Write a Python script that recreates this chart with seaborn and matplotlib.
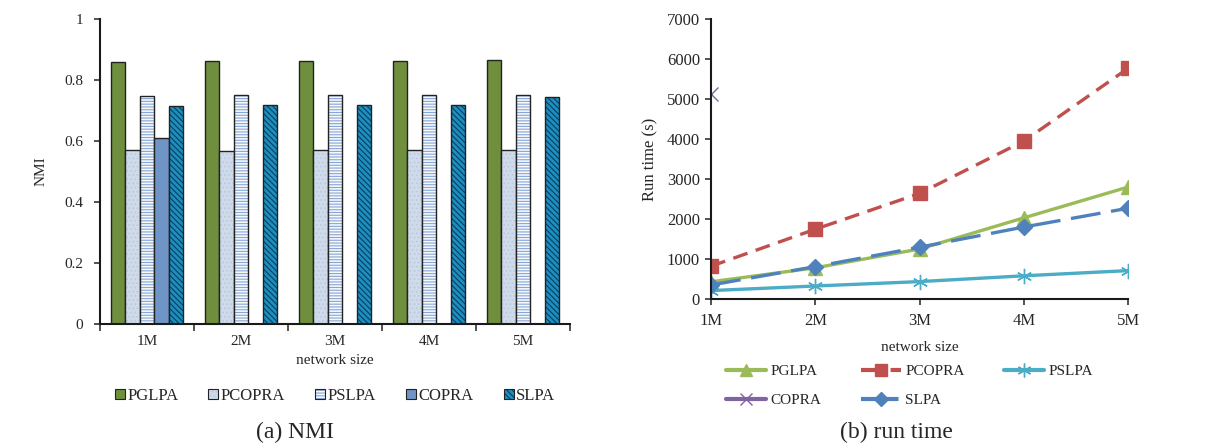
import numpy as np
import pandas as pd
import seaborn as sns
import matplotlib.pyplot as plt
import matplotlib.ticker as ticker
from matplotlib.colors import to_rgba
from matplotlib.lines import Line2D
from matplotlib.patches import Patch

sizes = ['1M', '2M', '3M', '4M', '5M']
algos = ['PGLPA', 'PCOPRA', 'PSLPA', 'COPRA', 'SLPA']

# NMI values
nmi_pglpa = [0.859, 0.861, 0.862, 0.863, 0.864]
nmi_pcopra = [0.570, 0.568, 0.571, 0.570, 0.571]
nmi_pslpa = [0.748, 0.752, 0.750, 0.752, 0.752]
nmi_copra = [0.610, np.nan, np.nan, np.nan, np.nan]
nmi_slpa = [0.715, 0.717, 0.717, 0.717, 0.744]

# run time (s)
rt_pglpa = [430, 780, 1250, 2030, 2800]
rt_pcopra = [820, 1745, 2640, 3950, 5770]
rt_pslpa = [210, 325, 435, 580, 710]
rt_copra = [5120, np.nan, np.nan, np.nan, np.nan]
rt_slpa = [350, 810, 1295, 1800, 2270]

sns.set_style('ticks')
plt.rcParams['font.family'] = ['Liberation Serif', 'DejaVu Serif']
plt.rcParams['hatch.linewidth'] = 0.8

fig = plt.figure(figsize=(12.08, 4.46), dpi=100)
ax1 = fig.add_axes([0.0828, 0.2735, 0.3890, 0.6840])
ax2 = fig.add_axes([0.5886, 0.3296, 0.3454, 0.6278])

# ---- (a) NMI bars ----
nmi = pd.DataFrame({'size': np.repeat(sizes, 5),
                    'algo': algos * 5,
                    'NMI': np.array([nmi_pglpa, nmi_pcopra, nmi_pslpa, nmi_copra, nmi_slpa]).T.ravel()})

bar_colors = ['#6F8F3F', '#CFDBEA', '#F6F8FC', '#6F95C6', '#1C8FC0']
hatches = [None, '....', '------', None, '\\\\\\\\\\\\']
hatch_cols = [None, '#BCCADD', '#86A6D6', None, '#0B3D5C']

sns.barplot(data=nmi, x='size', y='NMI', hue='algo', hue_order=algos,
            palette=bar_colors, width=0.77, saturation=1, ax=ax1,
            edgecolor='#222222', linewidth=1.0, legend=False)

for cont, h, hc in zip(ax1.containers, hatches, hatch_cols):
    for p in cont:
        if h:
            p.set_hatch(h)
            # hatch colour separate from the dark outline
            p._hatch_color = to_rgba(hc)
            p.stale = True

ax1.set_ylim(0, 1)
ax1.set_xlim(-0.5, 4.5)
ax1.yaxis.set_major_locator(ticker.MultipleLocator(0.2))
ax1.yaxis.set_major_formatter(ticker.FuncFormatter(lambda v, pos: f'{v:g}'))
ax1.set_xticks(np.arange(-0.5, 5, 1))
ax1.set_xticklabels([])
ax1.set_xticks(np.arange(5), labels=sizes, minor=True)
ax1.tick_params(axis='x', which='minor', length=0, labelsize=11, pad=8)
ax1.tick_params(axis='x', which='major', length=5, width=1.2, color='#333333')
ax1.tick_params(axis='y', length=4, width=1.2, labelsize=11, color='#333333', pad=8)
ax1.set_xlabel('network size', fontsize=11, labelpad=4)
ax1.set_ylabel('NMI', fontsize=11, labelpad=12)
for s in ['top', 'right']:
    ax1.spines[s].set_visible(False)
for s in ['left', 'bottom']:
    ax1.spines[s].set_linewidth(1.5)
    ax1.spines[s].set_color('#1a1a1a')

leg_handles = []
for c, h, hc in zip(bar_colors, hatches, hatch_cols):
    hp = Patch(facecolor=c, edgecolor='#222222', hatch=h, linewidth=0.8)
    if h:
        hp._hatch_color = to_rgba(hc)
    leg_handles.append(hp)
ax1.legend(leg_handles, algos, loc='upper center', bbox_to_anchor=(0.5, -0.16),
           ncol=5, frameon=False, fontsize=12, handlelength=0.6, handleheight=0.6,
           handletextpad=0.15, columnspacing=1.8)
fig.text(0.244, 0.018, '(a) NMI', ha='center', fontsize=17)

# ---- (b) run time lines ----
x_pos = np.arange(5)
line_specs = [
    ('PGLPA', rt_pglpa, '#9BBB59', '^', None, 10),
    ('PCOPRA', rt_pcopra, '#C0504D', 's', (4.5, 2.6), 9.5),
    ('PSLPA', rt_pslpa, '#4BACC6', (6, 2, 0), None, 11),
    ('COPRA', rt_copra, '#8064A2', 'x', None, 10),
    ('SLPA', rt_slpa, '#4F81BD', 'D', (9.0, 3.2), 8.5),
]
handles = {}
for name, vals, col, mk, dash, ms in line_specs:
    sns.lineplot(x=x_pos, y=vals, ax=ax2, color=col, linewidth=2.4,
                 marker=mk, markersize=ms, markeredgecolor=col, markerfacecolor=col,
                 markeredgewidth=1.0)
    ln = ax2.lines[-1]
    if dash is not None:
        ln.set_dashes(dash)
    h = Line2D([0], [0], color=col, linewidth=3, marker=mk,
               markersize=ms - 1, markerfacecolor=col, markeredgecolor=col)
    if dash is not None:
        h.set_dashes(dash)
    handles[name] = h

ax2.set_xlim(0, 4)
ax2.set_ylim(0, 7000)
ax2.set_xticks(x_pos, labels=sizes)
ax2.yaxis.set_major_locator(ticker.MultipleLocator(1000))
ax2.tick_params(axis='x', length=4, width=1.2, labelsize=12, pad=6, color='#333333')
ax2.tick_params(axis='y', length=4, width=1.2, labelsize=12, pad=4, color='#333333')
ax2.set_xlabel('network size', fontsize=11, labelpad=9)
ax2.set_ylabel('Run time (s)', fontsize=12, labelpad=6)
for s in ['top', 'right']:
    ax2.spines[s].set_visible(False)
for s in ['left', 'bottom']:
    ax2.spines[s].set_linewidth(1.5)
    ax2.spines[s].set_color('#1a1a1a')

order = ['PGLPA', 'COPRA', 'PCOPRA', 'SLPA', 'PSLPA']
ax2.legend([handles[k] for k in order], order, loc='upper center',
           bbox_to_anchor=(0.476, -0.185), ncol=3, frameon=False, fontsize=11,
           handlelength=2.6, handletextpad=0.3, columnspacing=2.6, labelspacing=1.0)
fig.text(0.742, 0.018, '(b) run time', ha='center', fontsize=17)

fig.savefig('out.png', dpi=100)
